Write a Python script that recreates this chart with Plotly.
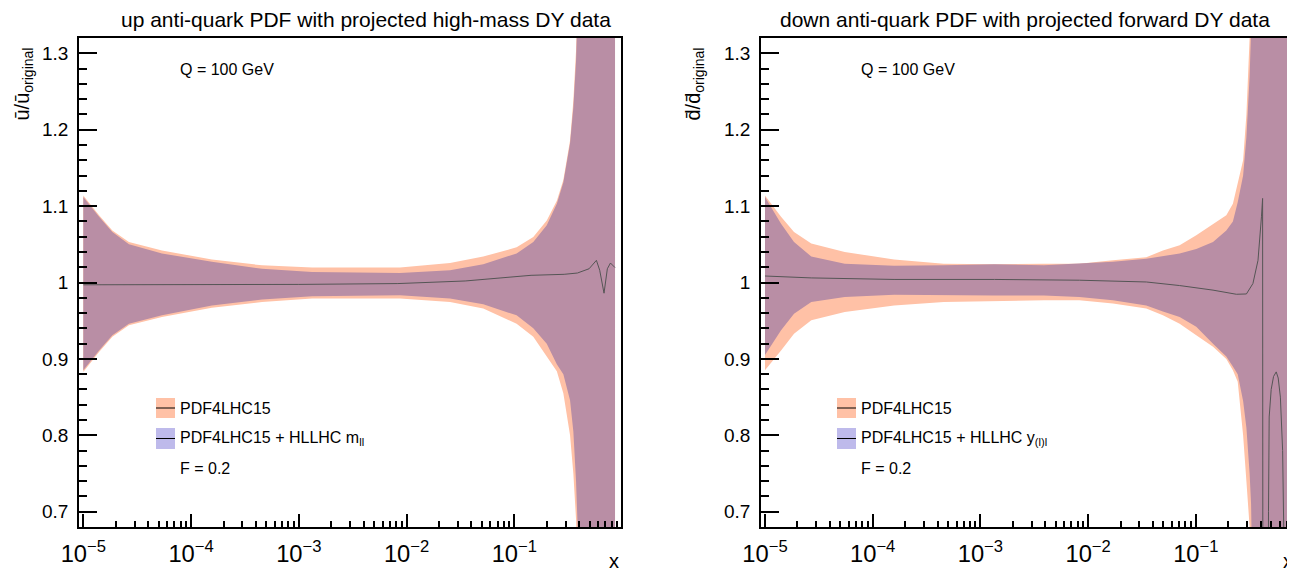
import plotly.graph_objects as go

# page body has an 8px margin; figure is sized so that it ends at the window edge
OFF = 8
W, H = 1295 - OFF, 569 - OFF

# ---------------- data: left panel (up anti-quark, high-mass DY) ----------------
x_ubar = [1.0e-5, 1.40e-5, 1.86e-5, 2.65e-5, 5.37e-5, 1.56e-4, 4.56e-4, 1.33e-3, 8.69e-3,
          0.0253, 0.0515, 0.105, 0.150, 0.200, 0.248, 0.285, 0.329, 0.353, 0.374, 0.387,
          0.417, 0.501, 0.631, 0.86]
ubar_pdf_hi = [1.114, 1.088, 1.068, 1.053, 1.042, 1.030, 1.0225, 1.0195, 1.0195, 1.0255,
               1.034, 1.046, 1.0595, 1.081, 1.107, 1.134, 1.186, 1.238, 1.304, 1.40, 1.60,
               1.90, 2.10, 2.20]
ubar_pdf_lo = [0.883, 0.909, 0.929, 0.944, 0.955, 0.967, 0.9745, 0.979, 0.979, 0.9745,
               0.966, 0.946, 0.929, 0.903, 0.884, 0.855, 0.800, 0.750, 0.690, 0.600, 0.400,
               0.200, 0.0, 0.0]
ubar_hl_hi = [1.112, 1.086, 1.066, 1.050, 1.038, 1.027, 1.018, 1.0137, 1.0124, 1.016,
              1.024, 1.038, 1.053, 1.075, 1.103, 1.131, 1.182, 1.229, 1.290, 1.38, 1.60,
              1.90, 2.10, 2.20]
ubar_hl_lo = [0.885, 0.911, 0.931, 0.946, 0.957, 0.970, 0.9776, 0.982, 0.9833, 0.979,
              0.9715, 0.957, 0.940, 0.920, 0.893, 0.880, 0.846, 0.805, 0.740, 0.680, 0.500,
              0.200, 0.0, 0.0]
x_ubar_c = [1.0e-5, 1.0e-4, 1.0e-3, 8.3e-3, 0.035, 0.143, 0.29, 0.385, 0.494, 0.578,
            0.62, 0.68, 0.73, 0.78, 0.86]
ubar_c = [0.997, 0.997, 0.9975, 0.9986, 1.002, 1.0094, 1.0107, 1.0124, 1.018, 1.029,
          1.016, 0.986, 1.018, 1.0255, 1.0195]

# ---------------- data: right panel (down anti-quark, forward DY) ----------------
x_dbar = [1.0e-5, 1.41e-5, 1.86e-5, 2.69e-5, 5.5e-5, 1.58e-4, 4.57e-4, 1.35e-3, 3.89e-3,
          8.3e-3, 0.017, 0.0347, 0.0495, 0.0708, 0.101, 0.1445, 0.192, 0.221, 0.245,
          0.275, 0.295, 0.316, 0.326, 0.339, 0.355, 0.5, 1.0]
dbar_pdf_hi = [1.114, 1.086, 1.066, 1.051, 1.040, 1.030, 1.0247, 1.024, 1.0247, 1.0247,
               1.029, 1.033, 1.042, 1.0486, 1.0617, 1.077, 1.088, 1.103, 1.129, 1.16,
               1.22, 1.32, 1.45, 1.60, 1.80, 2.0, 2.0]
dbar_pdf_lo = [0.885, 0.911, 0.933, 0.9506, 0.9614, 0.970, 0.9745, 0.976, 0.9767, 0.9767,
               0.9724, 0.966, 0.957, 0.946, 0.931, 0.916, 0.900, 0.885, 0.870, 0.800,
               0.740, 0.680, 0.600, 0.500, 0.400, 0.0, 0.0]
dbar_hl_hi = [1.112, 1.077, 1.053, 1.034, 1.0247, 1.022, 1.0225, 1.024, 1.0225, 1.0247,
              1.027, 1.031, 1.034, 1.038, 1.044, 1.053, 1.068, 1.080, 1.105, 1.14,
              1.19, 1.27, 1.33, 1.45, 1.60, 2.0, 2.0]
dbar_hl_lo = [0.905, 0.9375, 0.959, 0.9745, 0.981, 0.984, 0.984, 0.983, 0.983, 0.981,
              0.9767, 0.970, 0.962, 0.955, 0.942, 0.920, 0.903, 0.890, 0.880, 0.845,
              0.810, 0.750, 0.710, 0.600, 0.400, 0.0, 0.0]
x_dbar_c = [1.0e-5, 2.69e-5, 1.58e-4, 1.35e-3, 8.3e-3, 0.0347, 0.0708, 0.1445, 0.238,
            0.295, 0.339, 0.378, 0.407, 0.417, 0.421, 0.468, 0.473, 0.480, 0.501, 0.527,
            0.558, 0.582, 0.610, 0.640, 0.667, 0.692, 0.716, 0.719, 0.794, 0.89]
dbar_c = [1.0085, 1.006, 1.004, 1.004, 1.003, 1.0007, 0.996, 0.990, 0.9846,
          0.985, 0.9986, 1.029, 1.086, 1.11, 0.2, 0.3, 0.7, 0.824, 0.86, 0.877,
          0.883, 0.875, 0.85, 0.78, 0.6, 0.3, 0.3, 2.0, 2.0, 2.0]

# ---------------- styling ----------------
ORANGE = "rgb(255,193,166)"
MAUVE = "rgb(185,142,165)"
LAVENDER = "rgb(190,186,235)"
LINE = "rgb(85,85,85)"
FONT = "Liberation Sans, Arial, sans-serif"

fig = go.Figure()


def band(x, hi, lo, color, xa, ya):
    fig.add_trace(go.Scatter(
        x=list(x) + list(x)[::-1], y=list(hi) + list(lo)[::-1],
        fill="toself", fillcolor=color, line=dict(width=0), mode="lines",
        hoverinfo="skip", showlegend=False, xaxis=xa, yaxis=ya))


def central(x, y, xa, ya):
    fig.add_trace(go.Scatter(x=x, y=y, mode="lines", line=dict(color=LINE, width=1),
                             hoverinfo="skip", showlegend=False, xaxis=xa, yaxis=ya))


band(x_ubar, ubar_pdf_hi, ubar_pdf_lo, ORANGE, "x", "y")
band(x_ubar, ubar_hl_hi, ubar_hl_lo, MAUVE, "x", "y")
central(x_ubar_c, ubar_c, "x", "y")

band(x_dbar, dbar_pdf_hi, dbar_pdf_lo, ORANGE, "x2", "y2")
band(x_dbar, dbar_hl_hi, dbar_hl_lo, MAUVE, "x2", "y2")
central(x_dbar_c, dbar_c, "x2", "y2")


def fx(p):  # window pixel -> paper x
    return (p - OFF) / W


def fy(p):  # window pixel -> paper y
    return 1 - (p - OFF) / H


ydom = [fy(527), fy(38)]


def xaxis_cfg(domain, rng, anchor, mirror):
    return dict(domain=domain, type="log", range=rng, anchor=anchor, dtick=1,
                automargin=False,
                exponentformat="power", ticks="inside", ticklen=13, tickwidth=1.5,
                tickcolor="black", showgrid=False, zeroline=False, showline=True,
                linecolor="black", linewidth=1.5, mirror=mirror,
                tickfont=dict(family=FONT, size=19, color="black"),
                ticklabelstandoff=6,
                minor=dict(ticks="inside", ticklen=6, tickwidth=1.5, tickcolor="black",
                           dtick="D1", showgrid=False))


def yaxis_cfg(anchor, mirror):
    return dict(domain=ydom, range=[0.68, 1.32], anchor=anchor, dtick=0.1, tick0=0,
                automargin=False,
                ticks="inside", ticklen=18, tickwidth=1.5, tickcolor="black",
                showgrid=False, zeroline=False, showline=True, linecolor="black",
                linewidth=1.5, mirror=mirror,
                tickfont=dict(family=FONT, size=19, color="black"),
                ticklabelstandoff=5,
                minor=dict(ticks="inside", ticklen=8, tickwidth=1.5, tickcolor="black",
                           dtick=0.02, showgrid=False))


fig.update_layout(
    template="none",
    width=W, height=H, margin=dict(l=0, r=0, t=0, b=0, pad=0),
    paper_bgcolor="white", plot_bgcolor="white", showlegend=False,
    xaxis=xaxis_cfg([fx(79), fx(621)], [-5.04, -0.01], "y", True),
    yaxis=yaxis_cfg("x", True),
    xaxis2=xaxis_cfg([fx(761), 1.0], [-5.037, -0.079], "y2", True),
    yaxis2=yaxis_cfg("x2", False),
)


def note(text, xp, yp, size=16, xanchor="left", yanchor="middle", angle=0):
    fig.add_annotation(x=fx(xp), y=fy(yp), xref="paper", yref="paper", text=text,
                       showarrow=False, xanchor=xanchor, yanchor=yanchor,
                       textangle=angle, font=dict(family=FONT, size=size, color="black"))


# titles
note("up anti-quark PDF with projected high-mass DY data", 366, 20, size=21, xanchor="center")
note("down anti-quark PDF with projected forward DY data", 1025, 20, size=21, xanchor="center")
# y-axis titles
note("ū/ū<sub>original</sub>", 23, 46, size=20, xanchor="center", yanchor="top", angle=-90)
note("d̄/d̄<sub>original</sub>", 694, 46, size=20, xanchor="center", yanchor="top", angle=-90)
# x-axis titles
note("x", 614, 561, size=20, xanchor="center")
note("x", 1295, 561, size=20, xanchor="right")

# labels
for x0, sub in [(178, "m<sub>ll</sub>"), (859, "y<sub>(l)l</sub>")]:
    note("Q = 100 GeV", x0, 70)
    note("PDF4LHC15", x0, 408)
    note("PDF4LHC15 + HLLHC " + sub, x0, 438)
    note("F = 0.2", x0, 468)

# legend boxes
for bx0, bx1 in [(156, 175), (837, 856)]:
    for (y0, y1, col) in [(398, 418, ORANGE), (428, 449, LAVENDER)]:
        fig.add_shape(type="rect", xref="paper", yref="paper",
                      x0=fx(bx0), x1=fx(bx1), y0=fy(y1), y1=fy(y0),
                      fillcolor=col, line=dict(width=0))
        ym = fy((y0 + y1) / 2)
        fig.add_shape(type="line", xref="paper", yref="paper",
                      x0=fx(bx0), x1=fx(bx1), y0=ym, y1=ym,
                      line=dict(color="black", width=1))

fig.write_html("out.html")
